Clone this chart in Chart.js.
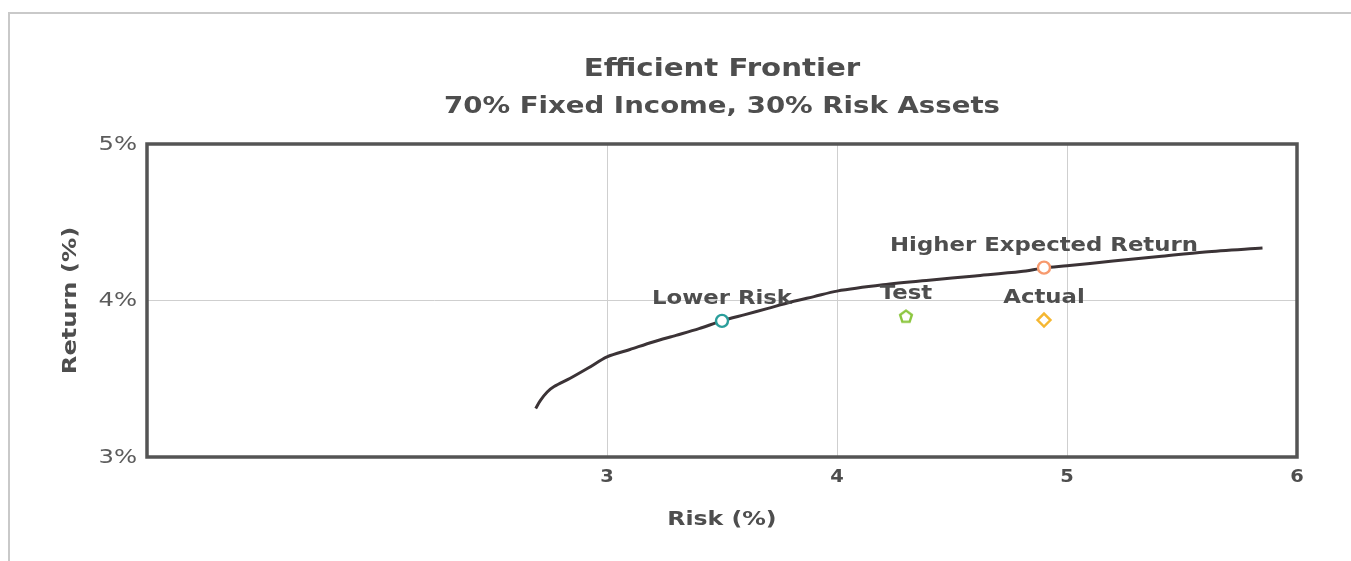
<!DOCTYPE html>
<html>
<head>
<meta charset="utf-8">
<script src="https://cdn.jsdelivr.net/npm/chart.js@4/dist/chart.umd.min.js"></script>
<style>
  html, body { margin: 0; padding: 0; background: #fff; }
  #wrap { position: relative; width: 1351px; height: 561px; overflow: hidden; }
  #frame { position: absolute; left: 8px; top: 12px; right: -10px; bottom: -10px;
           border-top: 2px solid #c9c9c9; border-left: 2px solid #c9c9c9; }
  #c { position: absolute; left: 0; top: 0; }
</style>
</head>
<body>
<div id="wrap">
  <div id="frame"></div>
  <canvas id="c" width="1351" height="561"></canvas>
</div>
<script>
// Efficient frontier curve (risk %, return %)
const frontierRisk   = [2.69, 2.71, 2.74, 2.77, 2.84, 2.92, 3.00, 3.10, 3.20, 3.30, 3.40, 3.50, 3.60, 3.70, 3.80, 3.90, 4.00, 4.20, 4.40, 4.60, 4.80, 4.90, 5.00, 5.20, 5.40, 5.60, 5.85];
const frontierReturn = [3.31, 3.36, 3.415, 3.45, 3.503, 3.57, 3.64, 3.687, 3.735, 3.777, 3.82, 3.87, 3.91, 3.95, 3.99, 4.025, 4.06, 4.10, 4.13, 4.157, 4.185, 4.208, 4.222, 4.252, 4.281, 4.31, 4.335];

// Named portfolios
const portfolioNames  = ['Lower Risk', 'Test', 'Higher Expected Return', 'Actual'];
const portfolioRisk   = [3.50, 4.30, 4.90, 4.90];
const portfolioReturn = [3.87, 3.90, 4.21, 3.875];
const portfolioColors = ['#2a9e9b', '#8cc63f', '#f79a6e', '#f5b731'];
const portfolioShapes = ['circle', 'pentagon', 'circle', 'rectRot'];

// Axis ticks
const xTicks = [3, 4, 5, 6];
const yTicks = [3, 4, 5];
const xTickLabels = ['3', '4', '5', '6'];
const yTickLabels = ['3%', '4%', '5%'];

// Titles
const chartTitle = 'Efficient Frontier';
const chartSubtitle = '70% Fixed Income, 30% Risk Assets';
const xAxisTitle = 'Risk (%)';
const yAxisTitle = 'Return (%)';

const TEXT = '#4e4e4e';
const FONT = "'DejaVu Sans', Verdana, sans-serif";

// hollow pentagon marker drawn to a small canvas
function pentagonMarker(color) {
  const s = 18, c = document.createElement('canvas');
  c.width = s; c.height = s;
  const g = c.getContext('2d');
  const r = 6.2, cx = s / 2, cy = s / 2 + 0.6;
  g.beginPath();
  for (let i = 0; i < 5; i++) {
    const a = -Math.PI / 2 + i * 2 * Math.PI / 5;
    const px = cx + r * Math.cos(a), py = cy + r * Math.sin(a);
    i ? g.lineTo(px, py) : g.moveTo(px, py);
  }
  g.closePath();
  g.fillStyle = '#fff'; g.fill();
  g.lineWidth = 2.4; g.strokeStyle = color; g.stroke();
  return c;
}

const portfolioDatasets = portfolioNames.map((name, i) => ({
  type: 'scatter',
  label: name,
  data: [{ x: portfolioRisk[i], y: portfolioReturn[i] }],
  pointStyle: portfolioShapes[i] === 'pentagon' ? pentagonMarker(portfolioColors[i]) : portfolioShapes[i],
  pointRadius: portfolioShapes[i] === 'rectRot' ? 6.5 : 6,
  pointBorderWidth: 2.4,
  pointBorderColor: portfolioColors[i],
  pointBackgroundColor: '#ffffff',
  order: 0
}));

// wide text: draw with a horizontal stretch
function wideText(ctx, text, x, y, opts) {
  ctx.save();
  ctx.translate(x, y);
  if (opts.rotate) ctx.rotate(opts.rotate);
  ctx.scale(opts.sx || 1, 1);
  ctx.font = (opts.weight || 'bold') + ' ' + opts.size + 'px ' + FONT;
  ctx.fillStyle = opts.color || TEXT;
  ctx.textAlign = opts.align || 'center';
  ctx.textBaseline = 'middle';
  ctx.fillText(text, 0, 0);
  ctx.restore();
}

// frame around plot area
const plotBorder = {
  id: 'plotBorder',
  afterDraw(chart) {
    const { ctx, chartArea: a } = chart;
    ctx.save();
    ctx.strokeStyle = '#545454';
    ctx.lineWidth = 3.5;
    ctx.strokeRect(a.left, a.top, a.right - a.left, a.bottom - a.top);
    ctx.restore();
  }
};

// titles, axis titles and tick labels
const chartText = {
  id: 'chartText',
  afterDraw(chart) {
    const { ctx, chartArea: a, scales } = chart;
    const cx = (a.left + a.right) / 2;
    const cy = (a.top + a.bottom) / 2;
    wideText(ctx, chartTitle, cx, 69, { size: 25, sx: 1.17 });
    wideText(ctx, chartSubtitle, cx, 107, { size: 23, sx: 1.2 });
    wideText(ctx, xAxisTitle, cx, 520, { size: 19, sx: 1.24 });
    wideText(ctx, yAxisTitle, 71, cy, { size: 19, sx: 1.27, rotate: -Math.PI / 2 });
    xTicks.forEach((v, i) => {
      wideText(ctx, xTickLabels[i], scales.x.getPixelForValue(v), a.bottom + 20, { size: 18, sx: 1.08 });
    });
    yTicks.forEach((v, i) => {
      wideText(ctx, yTickLabels[i], a.left - 10, scales.y.getPixelForValue(v) + 1, { size: 19, sx: 1.28, weight: 'normal', color: '#5c5c5c', align: 'right' });
    });
  }
};

// labels above each portfolio marker
const pointLabels = {
  id: 'pointLabels',
  afterDatasetsDraw(chart) {
    chart.data.datasets.forEach((ds, i) => {
      if (ds.type !== 'scatter') return;
      const el = chart.getDatasetMeta(i).data[0];
      wideText(chart.ctx, ds.label, el.x, el.y - 22, { size: 20, sx: 1.14 });
    });
  }
};

new Chart(document.getElementById('c'), {
  type: 'line',
  data: {
    datasets: [
      {
        type: 'line',
        label: 'Efficient Frontier',
        data: frontierRisk.map((x, i) => ({ x, y: frontierReturn[i] })),
        borderColor: '#3b3336',
        borderWidth: 3,
        pointRadius: 0,
        tension: 0.3,
        fill: false,
        order: 1
      },
      ...portfolioDatasets
    ]
  },
  options: {
    responsive: false,
    animation: false,
    layout: { padding: { left: 127, right: 54, top: 144, bottom: 84 } },
    plugins: {
      legend: { display: false },
      tooltip: { enabled: false },
      title: { display: false }
    },
    scales: {
      x: {
        type: 'linear',
        min: 1, max: 6,
        afterBuildTicks(axis) { axis.ticks = xTicks.map(v => ({ value: v })); },
        afterFit(axis) { axis.height = 20; },
        grid: { color: '#cfcfcf', lineWidth: 1, drawTicks: false },
        border: { display: false },
        ticks: { display: false }
      },
      y: {
        type: 'linear',
        min: 3, max: 5,
        afterBuildTicks(axis) { axis.ticks = yTicks.map(v => ({ value: v })); },
        afterFit(axis) { axis.width = 20; },
        grid: { color: '#cfcfcf', lineWidth: 1, drawTicks: false },
        border: { display: false },
        ticks: { display: false }
      }
    }
  },
  plugins: [plotBorder, chartText, pointLabels]
});
</script>
</body>
</html>
